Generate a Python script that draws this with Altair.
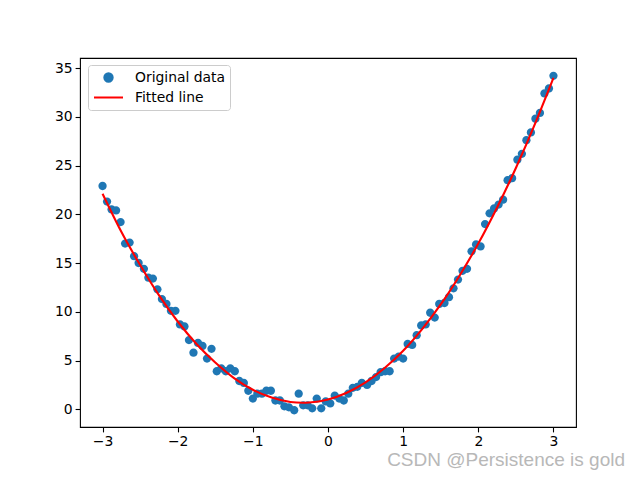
import altair as alt
import pandas as pd

x_data = [-3.00, -2.94, -2.88, -2.82, -2.76, -2.70, -2.64, -2.58, -2.52, -2.45,
          -2.39, -2.33, -2.27, -2.21, -2.15, -2.09, -2.03, -1.97, -1.91, -1.85,
          -1.79, -1.73, -1.67, -1.61, -1.55, -1.48, -1.42, -1.36, -1.30, -1.24,
          -1.18, -1.12, -1.06, -1.00, -0.94, -0.88, -0.82, -0.76, -0.70, -0.64,
          -0.58, -0.52, -0.45, -0.39, -0.33, -0.27, -0.21, -0.15, -0.09, -0.03,
          0.03, 0.09, 0.15, 0.21, 0.27, 0.33, 0.39, 0.45, 0.52, 0.58,
          0.64, 0.70, 0.76, 0.82, 0.88, 0.94, 1.00, 1.06, 1.12, 1.18,
          1.24, 1.30, 1.36, 1.42, 1.48, 1.55, 1.61, 1.67, 1.73, 1.79,
          1.85, 1.91, 1.97, 2.03, 2.09, 2.15, 2.21, 2.27, 2.33, 2.39,
          2.45, 2.52, 2.58, 2.64, 2.70, 2.76, 2.82, 2.88, 2.94, 3.00]
y_data = [22.9, 21.3, 20.5, 20.4, 19.2, 17.0, 17.1, 15.7, 15.0, 14.4,
          13.5, 13.4, 12.3, 11.3, 10.8, 10.1, 10.1, 8.7, 8.5, 7.1,
          5.8, 6.8, 6.5, 5.2, 6.2, 3.9, 4.2, 3.9, 4.2, 3.9,
          2.9, 2.7, 1.9, 1.1, 1.6, 1.6, 1.9, 1.9, 0.9, 0.9,
          0.3, 0.2, -0.1, 1.6, 0.4, 0.4, 0.1, 1.1, 0.1, 0.8,
          0.6, 1.4, 1.1, 0.9, 1.6, 2.2, 2.3, 2.7, 2.5, 2.9,
          3.3, 3.8, 3.9, 3.9, 5.2, 5.4, 5.2, 6.7, 6.6, 7.6,
          8.6, 8.7, 9.9, 9.4, 10.8, 10.9, 11.5, 12.4, 13.3, 14.2,
          14.4, 16.2, 16.9, 16.7, 19.0, 20.1, 20.6, 21.0, 21.5, 23.5,
          23.7, 25.6, 26.2, 27.6, 28.4, 29.8, 30.4, 32.4, 32.9, 34.2]

x_fit = [-3.0, -2.75, -2.5, -2.25, -2.0, -1.75, -1.5, -1.25, -1.0, -0.75, -0.5, -0.25,
         0.0, 0.25, 0.5, 0.75, 1.0, 1.25, 1.5, 1.75, 2.0, 2.25, 2.5, 2.75, 3.0]
y_fit = [22.1, 18.2, 14.8, 11.7, 9.0, 6.7, 4.8, 3.2, 2.0, 1.2, 0.75, 0.69,
         1.0, 1.7, 2.75, 4.2, 6.0, 8.2, 10.75, 13.7, 17.0, 20.7, 24.75, 29.2, 34.0]

series = ["Original data", "Fitted line"]
x_ticks = [-3, -2, -1, 0, 1, 2, 3]
y_ticks = [0, 5, 10, 15, 20, 25, 30, 35]

pts = pd.DataFrame({"x": x_data, "y": y_data, "series": series[0]})
fit = pd.DataFrame({"x": x_fit, "y": y_fit, "series": series[1]})

FONT = "DejaVu Sans"
FS = 13.9
BLUE = "#1f77b4"
SYM = 841  # symbol box 29px wide
CIRCLE = "M-0.286,0A0.286,0.286,0,1,0,0.286,0A0.286,0.286,0,1,0,-0.286,0Z"
DASH = "M-1,0H1"

xscale = alt.Scale(domain=[-3.3, 3.3], nice=False, zero=False)
yscale = alt.Scale(domain=[-1.82, 36.03], nice=False, zero=False)
xaxis = alt.Axis(values=x_ticks, title=None, format="d",
                 labelExpr="replace(datum.label, '-', '\u2212')")
yaxis = alt.Axis(values=y_ticks, title=None, format="d")

cscale = alt.Scale(domain=series, range=[BLUE, "red"])
legend = alt.Legend(
    title=None,
    orient="none",
    legendX=8,
    legendY=7,
    symbolSize=SYM,
    symbolStrokeWidth=2.1,
    symbolFillColor=BLUE,
    symbolOpacity=1,
    labelOffset=10.5,
    clipHeight=16,
    rowPadding=4,
)

points = alt.Chart(pts).mark_point(
    filled=False, fill=BLUE, fillOpacity=1, strokeWidth=0, size=SYM, opacity=1
).encode(
    x=alt.X("x:Q", scale=xscale, axis=xaxis),
    y=alt.Y("y:Q", scale=yscale, axis=yaxis),
    color=alt.Color("series:N", scale=cscale, legend=legend),
    shape=alt.Shape("series:N", scale=alt.Scale(domain=series, range=[CIRCLE, DASH]), legend=legend),
)

line = alt.Chart(fit).mark_line(strokeWidth=2.1, interpolate="natural").encode(
    x=alt.X("x:Q", scale=xscale),
    y=alt.Y("y:Q", scale=yscale),
    color=alt.Color("series:N", scale=cscale, legend=None),
)

watermark = alt.Chart(pd.DataFrame({"t": ["CSDN @Persistence is gold"]})).mark_text(
    align="right", baseline="middle", font="Liberation Sans", fontSize=19,
    color="#b8b8b8"
).encode(x=alt.value(545), y=alt.value(402), text="t:N")

chart = alt.layer(points, line, watermark).properties(
    width=496, height=369,
    autosize="none",
    padding={"left": 72, "top": 50, "right": 56, "bottom": 45},
).configure_view(
    stroke="black", strokeWidth=1.1
).configure_axis(
    grid=False, domain=False,
    tickColor="black", tickSize=4.9, tickWidth=1.1,
    labelFont=FONT, labelFontSize=FS, labelColor="black", labelPadding=3,
).configure_legend(
    labelFont=FONT, labelFontSize=FS, labelColor="black",
    strokeColor="#cccccc", fillColor="white", cornerRadius=3, padding=4.5,
)

chart.save("out.html", embed_options={"renderer": "svg", "actions": False})
